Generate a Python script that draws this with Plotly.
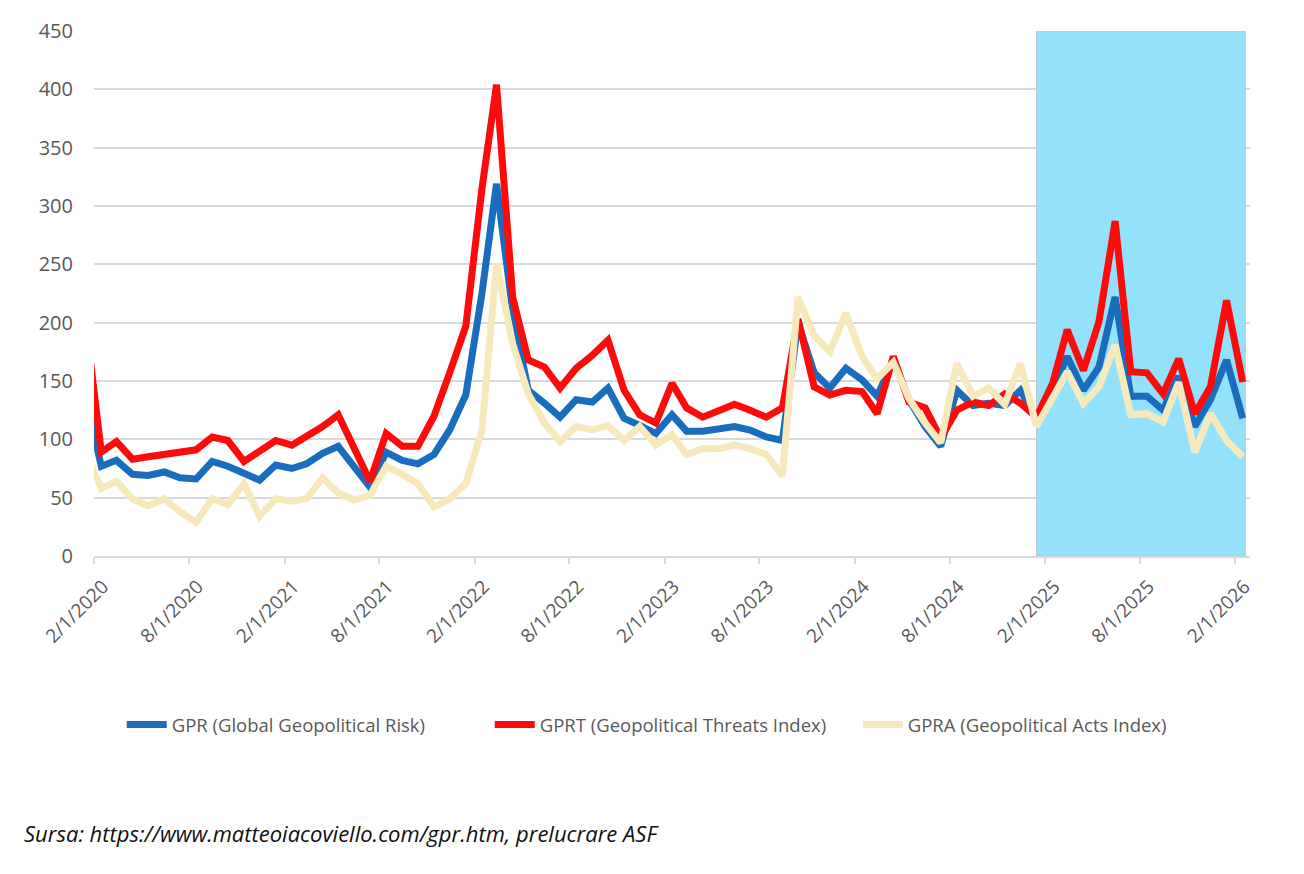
import pandas as pd
import plotly.graph_objects as go

# Monthly observations (mid-month), Jan 2020 .. Feb 2026
dates = pd.date_range("2020-01-01", "2026-02-01", freq="MS") + pd.Timedelta(days=14)

gpr = [138, 77, 82, 70, 69, 72, 67, 66, 81, 77, 71, 65, 78, 75, 79, 88, 94, 76, 59, 89,
       82, 79, 87, 108, 138, 225, 319, 210, 142, 131, 119, 134, 132, 144, 118, 112, 105, 121,
       107, 107, 109, 111, 108, 102, 99, 200, 157, 144, 161, 151, 137, 168, 134, 111, 94, 142,
       129, 131, 129, 142, 117, 142, 171, 142, 162, 222, 137, 137, 125, 154, 111, 134, 168, 118]

gprt = [205, 89, 98, 83, 85, 87, 90, 91, 102, 99, 81, 89, 99, 95, 102, 111, 121, 93, 64, 105,
        94, 94, 120, 157, 197, 315, 404, 222, 168, 162, 144, 161, 172, 185, 142, 121, 114, 148,
        127, 119, 124, 130, 125, 119, 127, 203, 145, 138, 142, 141, 122, 171, 132, 127, 101, 125,
        132, 129, 139, 131, 119, 148, 194, 159, 201, 287, 158, 157, 139, 169, 122, 145, 219, 149]

gpra = [90, 58, 64, 49, 43, 49, 38, 29, 49, 44, 62, 34, 49, 47, 49, 67, 54, 48, 52, 77,
        70, 62, 42, 49, 62, 108, 251, 182, 139, 114, 98, 111, 108, 112, 99, 111, 95, 104,
        87, 92, 92, 95, 92, 87, 69, 222, 189, 175, 208, 171, 152, 166, 135, 114, 97, 165,
        137, 144, 130, 165, 111, 137, 158, 131, 145, 181, 121, 122, 115, 149, 89, 122, 99, 85]

series_names = ["GPR (Global Geopolitical Risk)",
                "GPRT (Geopolitical Threats Index)",
                "GPRA (Geopolitical Acts Index)"]
series_colors = ["#1A6DBE", "#FF0A0A", "#F6EABD"]

tick_dates = pd.date_range("2020-02-01", "2026-02-01", freq="6MS")
tick_labels = [f"{d.month}/{d.day}/{d.year}" for d in tick_dates]

highlight_start = "2025-01-15"
highlight_end = "2026-02-20"

fig = go.Figure()
for vals, name, col in zip([gpr, gprt, gpra], series_names, series_colors):
    fig.add_trace(go.Scatter(x=dates, y=vals, mode="lines", name=name,
                             line=dict(color=col, width=7)))

fig.add_shape(type="rect", xref="x", yref="y", x0=highlight_start, x1=highlight_end,
              y0=0, y1=450, fillcolor="#94E1FB", line=dict(width=1, color="#B8C9D0"),
              layer="between")

fig.add_annotation(text="<i>Sursa: https://www.matteoiacoviello.com/gpr.htm, prelucrare ASF</i>",
                   xref="paper", yref="paper", x=-0.0625, y=-0.5276,
                   xanchor="left", yanchor="middle", showarrow=False,
                   font=dict(family="Open Sans", size=22, color="#111111"))

fig.update_layout(
    width=1304, height=874,
    margin=dict(l=94, r=54, t=31, b=318),
    paper_bgcolor="white", plot_bgcolor="white",
    font=dict(family="Open Sans", color="#595959"),
    showlegend=True,
    legend=dict(orientation="h", x=0.024, y=-0.322, xanchor="left", yanchor="middle",
                font=dict(size=18.5, color="#595959"), itemwidth=40,
                entrywidth=313, entrywidthmode="pixels"),
)
fig.update_xaxes(type="date", range=["2020-02-01", "2026-03-01"],
                 tickvals=tick_dates, ticktext=tick_labels, tickangle=-45,
                 tickfont=dict(size=19, color="#595959"),
                 showgrid=False, showline=True, linecolor="#D9D9D9", linewidth=2,
                 ticks="outside", ticklen=6, tickcolor="#D9D9D9", tickwidth=2,
                 ticklabelshift=9, ticklabelstandoff=4,
                 zeroline=False)
fig.update_yaxes(range=[0, 450], dtick=50, tick0=0,
                 tickfont=dict(size=20, color="#595959"),
                 showgrid=True, gridcolor="#D9D9D9", gridwidth=1.5,
                 showline=False, zeroline=False, ticks="", ticklabelstandoff=20)

fig.write_html("out.html")
